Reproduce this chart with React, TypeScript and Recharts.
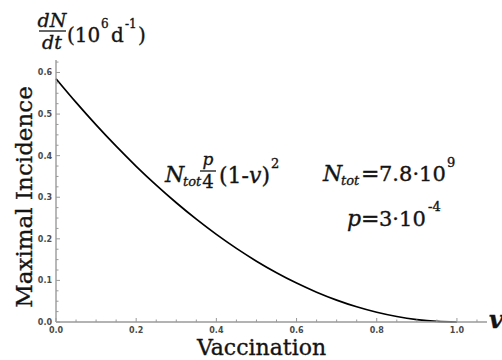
import React from "react";
import { LineChart, Line, XAxis, YAxis } from "recharts";

// Data
const vaccination = [0, 0.05, 0.1, 0.15, 0.2, 0.25, 0.3, 0.35, 0.4, 0.45, 0.5, 0.55, 0.6, 0.65, 0.7, 0.75, 0.8, 0.85, 0.9, 0.95, 1.0];
const incidence = [0.585, 0.528, 0.4739, 0.4227, 0.3744, 0.3291, 0.2867, 0.2472, 0.2106, 0.177, 0.1463, 0.1185, 0.0936, 0.0717, 0.0527, 0.0366, 0.0234, 0.0132, 0.0059, 0.0015, 0];
const xTicks = [0, 0.05, 0.1, 0.15, 0.2, 0.25, 0.3, 0.35, 0.4, 0.45, 0.5, 0.55, 0.6, 0.65, 0.7, 0.75, 0.8, 0.85, 0.9, 0.95, 1.0, 1.05];
const yTicks = [0, 0.025, 0.05, 0.075, 0.1, 0.125, 0.15, 0.175, 0.2, 0.225, 0.25, 0.275, 0.3, 0.325, 0.35, 0.375, 0.4, 0.425, 0.45, 0.475, 0.5, 0.525, 0.55, 0.575, 0.6, 0.625];

const data = vaccination.map((v, i) => ({ v, y: incidence[i] }));

const AXIS = "#9a9a9a";
const LABEL = "#4a4a4a";
const TXT = "#141414";
const SERIF = "'DejaVu Serif', serif";
const SANS = "'DejaVu Sans', sans-serif";
const HEAVY = { stroke: TXT, strokeWidth: 0.35 };

const isMajor = (v: number, step: number) => Math.abs(v / step - Math.round(v / step)) < 1e-6;

const XTick = (props: any) => {
  const { x, y, payload } = props;
  const v = payload.value as number;
  const major = isMajor(v, 0.2);
  return (
    <g>
      <line x1={x} x2={x} y1={y} y2={y - (major ? 4 : 2.5)} stroke={AXIS} strokeWidth={1} />
      {major && (
        <text x={x} y={y + 11} textAnchor="middle" fontSize={8} fontWeight="bold" fill={LABEL} fontFamily={SANS}>
          {v.toFixed(1)}
        </text>
      )}
    </g>
  );
};

const YTick = (props: any) => {
  const { x, y, payload } = props;
  const v = payload.value as number;
  const major = isMajor(v, 0.1);
  return (
    <g>
      <line x1={x} x2={x + (major ? 4 : 2.5)} y1={y} y2={y} stroke={AXIS} strokeWidth={1} />
      {major && (
        <text x={x - 4} y={y + 3} textAnchor="end" fontSize={8} fontWeight="bold" fill={LABEL} fontFamily={SANS}>
          {v.toFixed(1)}
        </text>
      )}
    </g>
  );
};

export default function App() {
  return (
    <div style={{ position: "absolute", left: 0, top: 0, width: 502, height: 360, background: "#fff" }}>
      <LineChart width={502} height={360} data={data} margin={{ top: 60, right: 15, bottom: 0, left: 0 }}>
        <XAxis
          dataKey="v"
          type="number"
          domain={[0, 1.075]}
          ticks={xTicks}
          interval={0}
          height={38}
          tickSize={0}
          tickMargin={0}
          tickLine={false}
          axisLine={{ stroke: AXIS, strokeWidth: 1.4 }}
          tick={<XTick />}
        />
        <YAxis
          type="number"
          domain={[0, 0.63]}
          ticks={yTicks}
          interval={0}
          width={56}
          tickSize={0}
          tickMargin={0}
          tickLine={false}
          axisLine={{ stroke: AXIS, strokeWidth: 1.4 }}
          tick={<YTick />}
        />
        <Line
          type="monotone"
          dataKey="y"
          stroke="#000"
          strokeWidth={1.7}
          dot={false}
          isAnimationActive={false}
        />
      </LineChart>
      <svg width={502} height={360} style={{ position: "absolute", left: 0, top: 0, pointerEvents: "none" }}>
        <g fill={TXT} fontFamily={SERIF} {...HEAVY}>
          {/* top-left unit label */}
          <text x={52} y={27} textAnchor="middle" fontSize={19} fontStyle="italic">dN</text>
          <line x1={39} x2={66} y1={31} y2={31} stroke={TXT} strokeWidth={1.3} />
          <text x={52} y={49} textAnchor="middle" fontSize={19} fontStyle="italic">dt</text>
          <text x={67} y={42} fontSize={20}>(10</text>
          <text x={101} y={28} fontSize={12}>6</text>
          <text x={111} y={42} fontSize={20}>d</text>
          <text x={125} y={28} fontSize={12}>-1</text>
          <text x={138} y={42} fontSize={20}>)</text>

          {/* axis titles */}
          <text transform="translate(32,197) rotate(-90)" textAnchor="middle" fontSize={23}>Maximal Incidence</text>
          <text x={261.5} y={355} textAnchor="middle" fontSize={22}>Vaccination</text>
          <text x={489} y={328} fontSize={24} fontStyle="italic" fontWeight="bold">v</text>

          {/* formula */}
          <text x={165} y={182} fontSize={22} fontStyle="italic">N</text>
          <text x={183} y={186} fontSize={13} fontStyle="italic">tot</text>
          <text x={208} y={165} textAnchor="middle" fontSize={17} fontStyle="italic">p</text>
          <line x1={200} x2={216} y1={171} y2={171} stroke={TXT} strokeWidth={1.3} />
          <text x={208} y={188} textAnchor="middle" fontSize={18}>4</text>
          <text x={219} y={183} fontSize={22}>(1-<tspan fontStyle="italic">v</tspan>)</text>
          <text x={271} y={168} fontSize={13}>2</text>

          {/* parameters */}
          <text x={323} y={181} fontSize={22} fontStyle="italic">N</text>
          <text x={341} y={185} fontSize={13} fontStyle="italic">tot</text>
          <text x={361} y={181} fontSize={22}>=</text>
          <text x={379} y={181} fontSize={21}>7.8·10</text>
          <text x={447} y={167} fontSize={13}>9</text>

          <text x={347} y={226} fontSize={22} fontStyle="italic">p</text>
          <text x={361} y={226} fontSize={22}>=</text>
          <text x={379} y={226} fontSize={21}>3·10</text>
          <text x={428} y={211} fontSize={13}>-4</text>
        </g>
      </svg>
    </div>
  );
}
